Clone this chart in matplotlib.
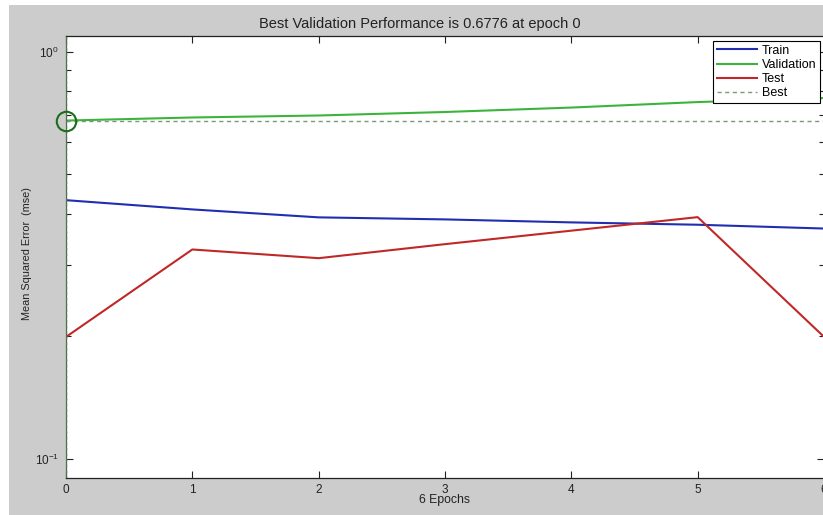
import numpy as np
import matplotlib.pyplot as plt
from matplotlib.patches import Rectangle

plt.rcParams['font.family'] = ['Liberation Sans', 'DejaVu Sans']
plt.rcParams['mathtext.fontset'] = 'custom'
plt.rcParams['mathtext.rm'] = 'Liberation Sans'
plt.rcParams['mathtext.it'] = 'Liberation Sans'

# performance values
epochs = [0, 1, 2, 3, 4, 5, 6]
train = [0.432, 0.410, 0.392, 0.3875, 0.381, 0.376, 0.368]
validation = [0.6776, 0.6895, 0.6973, 0.7112, 0.7293, 0.7523, 0.7695]
test = [0.1994, 0.3269, 0.3112, 0.3369, 0.3636, 0.3925, 0.1995]
best_epoch = 0
best_perf = 0.6776

W, H = 823, 515
fig = plt.figure(figsize=(W / 100, H / 100), dpi=100)
fig.patch.set_facecolor('#cccccc')
# white strips of the screenshot around the figure
fig.patches.append(Rectangle((0, 0), 9 / W, 1, transform=fig.transFigure,
                             facecolor='white', edgecolor='none', zorder=-1))
fig.patches.append(Rectangle((0, 1 - 5 / H), 1, 5 / H, transform=fig.transFigure,
                             facecolor='white', edgecolor='none', zorder=-1))

ax_l, ax_r, ax_t, ax_b = 66, 824, 36, 478
ax = fig.add_axes([ax_l / W, 1 - ax_b / H, (ax_r - ax_l) / W, (ax_b - ax_t) / H])
ax.set_facecolor('white')

ax.plot(epochs, train, color='#1f2fb0', lw=1.5, label='Train')
ax.plot(epochs, validation, color='#3cb43c', lw=1.5, label='Validation')
ax.plot(epochs, test, color='#c02828', lw=1.5, label='Test')
ax.plot([0, 6], [best_perf, best_perf], color='#7a9a7a', lw=1.0, ls=(0, (3, 2.5)), label='Best')
ax.axvline(best_epoch, color='#4f7a4f', lw=1.0, ls=(0, (2, 2)), zorder=5)
ax.plot([best_epoch], [best_perf], 'o', ms=14, mfc='none', mec='#1a6e1a', mew=1.5, clip_on=False, zorder=6)

ax.set_yscale('log')
ax.set_xlim(0, 6)
ax.set_ylim(0.0898, 1.093)
ax.set_xticks(epochs)
ax.set_yticks([0.1, 1.0])
ax.set_yticklabels([r'$10^{-1}$', r'$10^{0}$'])
ax.set_yticks([0.2, 0.3, 0.4, 0.5, 0.6, 0.7, 0.8, 0.9], minor=True)
ax.yaxis.set_minor_formatter(plt.NullFormatter())
ax.tick_params(which='both', direction='in', top=True, right=True, labelsize=8.5, colors='#222222')
ax.tick_params(which='major', length=5, width=0.8, pad=5)
ax.tick_params(which='minor', length=3.5, width=0.8)
ax.tick_params(axis='x', pad=4)
for s in ax.spines.values():
    s.set_color('#222222')
    s.set_linewidth(0.9)
ax.spines['left'].set_color('#4f6a4f')

leg = ax.legend(loc='upper right', bbox_to_anchor=(820 / W, 1 - 41 / H),
                bbox_transform=fig.transFigure, borderaxespad=0, fontsize=9,
                fancybox=False, framealpha=1, edgecolor='black', handlelength=3.2,
                labelspacing=0.18, borderpad=0.3, handletextpad=0.4)
leg.get_frame().set_linewidth(0.8)

fig.text(420 / W, 1 - 24 / H, 'Best Validation Performance is 0.6776 at epoch 0',
         ha='center', va='center', fontsize=10.5, color='#222222')
fig.text(444 / W, 1 - 500 / H, '6 Epochs', ha='center', va='center', fontsize=8.8, color='#222222')
fig.text(27 / W, 1 - 254 / H, 'Mean Squared Error  (mse)', ha='center', va='center',
         rotation=90, fontsize=7.8, color='#222222')

fig.savefig('out.png', dpi=100, facecolor=fig.get_facecolor())
